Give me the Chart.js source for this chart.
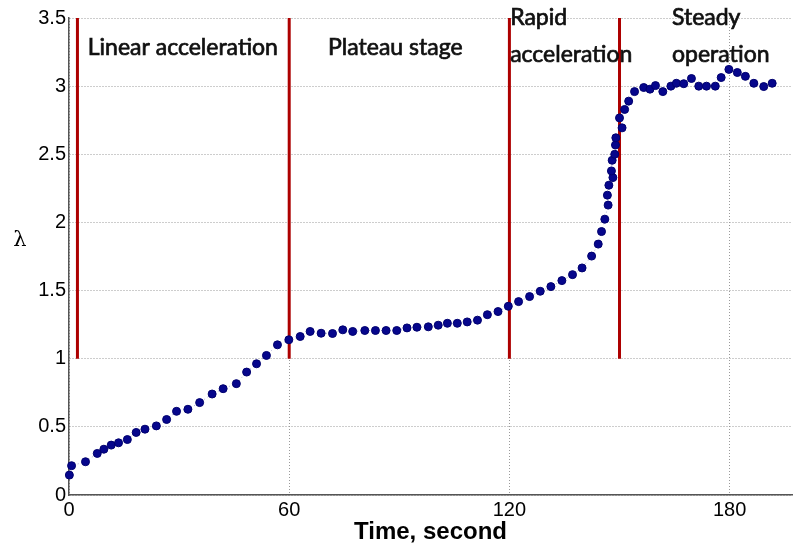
<!DOCTYPE html>
<html>
<head>
<meta charset="utf-8">
<script src="https://cdn.jsdelivr.net/npm/chart.js@4/dist/chart.umd.min.js"></script>
<style>
  html, body { margin: 0; padding: 0; background: #fff; }
  #wrap { width: 797px; height: 549px; }
</style>
</head>
<body>
<div id="wrap"><canvas id="lambdaChart" width="797" height="549"></canvas></div>
<script>
// tip speed ratio vs time
const timeSec = [
    0.1, 0.7, 4.5, 7.7, 9.5, 11.5, 13.5, 15.9, 18.3, 20.7, 23.8, 26.6, 29.3, 32.4, 35.6, 39.0,
    42.0, 45.6, 48.4, 51.1, 53.8, 56.8, 59.9,
    63.0, 65.7, 68.7, 71.8, 74.6, 77.3,
    80.6, 83.5, 86.4, 89.3, 92.1, 94.8, 97.9, 100.6, 103.1, 105.8, 108.5, 111.3, 114.0, 116.9, 119.7,
    122.5, 125.5, 128.4, 131.3, 134.3, 137.2, 139.8, 142.4, 144.2, 145.1, 146.0,
    146.9, 146.7, 147.1, 148.2, 147.8, 148.0, 148.7, 148.9, 149.0,
    150.7, 150.0, 151.4, 152.5, 154.1,
    156.6, 158.3, 159.8, 161.8, 164.0, 165.5, 167.5, 169.6, 171.6, 173.7, 176.1, 177.7, 179.8, 182.1, 184.3, 186.6, 189.3, 191.6
];
const lambdaVals = [
    0.146, 0.215, 0.244, 0.305, 0.336, 0.366, 0.383, 0.407, 0.459, 0.483, 0.507, 0.554, 0.614, 0.629, 0.678, 0.741,
    0.78, 0.817, 0.902, 0.963, 1.024, 1.102, 1.139,
    1.163, 1.2, 1.187, 1.185, 1.212, 1.2,
    1.207, 1.207, 1.207, 1.207, 1.226, 1.231, 1.234, 1.246, 1.26, 1.26, 1.27, 1.283, 1.323, 1.346, 1.385,
    1.419, 1.456, 1.495, 1.529, 1.573, 1.617, 1.666, 1.753, 1.841, 1.933, 2.024,
    2.127, 2.2, 2.273, 2.329, 2.378, 2.456, 2.5, 2.568, 2.621,
    2.694, 2.767, 2.829, 2.89, 2.96,
    2.99, 2.978, 3.004, 2.96, 3.0, 3.021, 3.018, 3.056, 3.0, 3.0, 3.0, 3.063, 3.123, 3.1, 3.072, 3.021, 2.997, 3.021
];

const xTicks = [0, 60, 120, 180];
const yTicks = [0, 0.5, 1, 1.5, 2, 2.5, 3, 3.5];

// stage boundaries (s) and their vertical extent
const stageBounds = [2.3, 60, 120, 150];
const stageLineFrom = 1;
const stageLineTo = 3.5;
const stageNames = [
    ['Linear acceleration'],
    ['Plateau stage'],
    ['Rapid', 'acceleration'],
    ['Steady', 'operation']
];

const points = timeSec.map((t, i) => ({ x: t, y: lambdaVals[i] }));

const boundaryDatasets = stageBounds.map(b => ({
    type: 'line',
    data: [{ x: b, y: stageLineFrom }, { x: b, y: stageLineTo }],
    borderColor: '#ad0000',
    borderWidth: 3,
    pointRadius: 0,
    clip: false,
    order: 2
}));

// stage names, anchored in data coordinates
const stageLabelPlugin = {
    id: 'stageLabels',
    afterDatasetsDraw(chart, args, opts) {
        const { ctx, scales: { x, y } } = chart;
        ctx.save();
        ctx.font = opts.font;
        ctx.fillStyle = '#111';
        ctx.strokeStyle = '#111';
        ctx.lineWidth = 0.7;
        ctx.textAlign = 'left';
        ctx.textBaseline = 'middle';
        stageNames.forEach((lines, i) => {
            const px = x.getPixelForValue(opts.anchors[i]);
            lines.forEach((txt, j) => {
                const yv = lines.length === 1 ? opts.singleY : opts.doubleY[j];
                const py = y.getPixelForValue(yv);
                ctx.fillText(txt, px, py);
                ctx.strokeText(txt, px, py);   // a little heavier
            });
        });
        // lambda axis label, upright
        ctx.font = '21px "DejaVu Serif", serif';
        ctx.textAlign = 'center';
        ctx.fillStyle = '#000';
        ctx.fillText('\u03BB', chart.chartArea.left - 49, y.getPixelForValue(1.87));
        ctx.restore();
    }
};

const ctx = document.getElementById('lambdaChart').getContext('2d');
new Chart(ctx, {
    type: 'scatter',
    data: {
        datasets: [
            {
                data: points,
                showLine: true,
                borderColor: 'rgba(30, 30, 140, 0.35)',
                borderWidth: 1,
                borderDash: [1, 3],
                backgroundColor: '#06068c',
                pointBorderColor: '#00006e',
                pointBorderWidth: 1,
                pointRadius: 4,
                pointHoverRadius: 4,
                clip: false,
                order: 1
            },
            ...boundaryDatasets
        ]
    },
    options: {
        responsive: false,
        animation: false,
        layout: { padding: { top: 18, right: 0, left: 0, bottom: 0 } },
        plugins: {
            legend: { display: false },
            tooltip: { enabled: false },
            stageLabels: {
                font: '23px Lato, "Open Sans", sans-serif',
                anchors: [5.1, 70.6, 120.2, 164.3],
                singleY: 3.28,
                doubleY: [3.5, 3.235]
            }
        },
        scales: {
            x: {
                type: 'linear',
                min: 0,
                max: 197,
                afterBuildTicks: s => { s.ticks = xTicks.map(v => ({ value: v })); },
                afterFit: s => { s.height = 54; },
                grid: { color: '#9a9a9a', lineWidth: 1, drawTicks: false },
                border: { display: true, color: '#555', width: 1.5, dash: [1, 2] },
                ticks: {
                    color: '#000',
                    padding: 3,
                    maxRotation: 0,
                    font: { family: '"Liberation Sans", Arial, sans-serif', size: 20 }
                },
                title: {
                    display: true,
                    text: 'Time, second',
                    color: '#000',
                    padding: { top: 0, bottom: 2 },
                    font: { family: '"Liberation Sans", Arial, sans-serif', size: 24, weight: 'bold' }
                }
            },
            y: {
                min: 0,
                max: 3.5,
                afterBuildTicks: s => { s.ticks = yTicks.map(v => ({ value: v })); },
                afterFit: s => { s.width = 69; },
                grid: { color: '#9a9a9a', lineWidth: 1, drawTicks: false },
                border: { display: true, color: '#555', width: 1.5, dash: [1, 2] },
                ticks: {
                    color: '#000',
                    padding: 3,
                    callback: v => String(v),
                    font: { family: '"Liberation Sans", Arial, sans-serif', size: 20 }
                }
            }
        }
    },
    plugins: [stageLabelPlugin]
});
</script>
</body>
</html>
